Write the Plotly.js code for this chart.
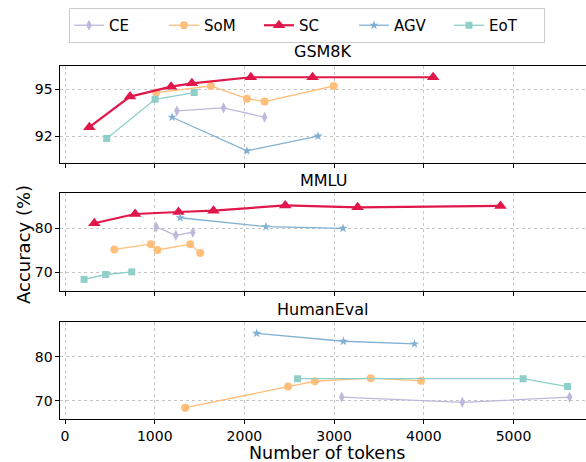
<!DOCTYPE html>
<html>
<head>
<meta charset="utf-8">
<script src="https://cdn.plot.ly/plotly-3.0.1.min.js"></script>
<style>html,body{margin:0;padding:0;background:#fff;}#chart{width:586px;height:462px;}</style>
</head>
<body>
<div id="chart"></div>
<script>
// ---- data (tokens, accuracy %) ----
const datasets = ["GSM8K", "MMLU", "HumanEval"];
const methods = ["CE", "SoM", "SC", "AGV", "EoT"];

// GSM8K
const gsm_CE_x = [1247, 1767, 2225];
const gsm_CE_y = [93.62, 93.81, 93.21];
const gsm_SoM_x = [1016, 1626, 2028, 2225, 2995];
const gsm_SoM_y = [94.79, 95.21, 94.40, 94.21, 95.21];
const gsm_SC_x = [271, 725, 1183, 1414, 2072, 2760, 4104];
const gsm_SC_y = [92.57, 94.53, 95.17, 95.38, 95.77, 95.77, 95.77];
const gsm_AGV_x = [1194, 2028, 2820];
const gsm_AGV_y = [93.21, 91.06, 92.00];
const gsm_EoT_x = [465, 1004, 1440];
const gsm_EoT_y = [91.85, 94.36, 94.79];

// MMLU
const mmlu_CE_x = [1016, 1235, 1425];
const mmlu_CE_y = [80.3, 78.4, 79.1];
const mmlu_SoM_x = [550, 956, 1030, 1395, 1507];
const mmlu_SoM_y = [75.2, 76.4, 75.07, 76.4, 74.4];
const mmlu_SC_x = [327, 781, 1265, 1655, 2455, 3262, 4855];
const mmlu_SC_y = [81.14, 83.25, 83.7, 84.0, 85.2, 84.77, 85.07];
const mmlu_AGV_x = [1283, 2240, 3099];
const mmlu_AGV_y = [82.4, 80.36, 80.0];
const mmlu_EoT_x = [212, 454, 744];
const mmlu_EoT_y = [68.4, 69.5, 70.1];

// HumanEval
const he_CE_x = [3085, 4429, 5625];
const he_CE_y = [70.8, 69.6, 70.8];
const he_SoM_x = [1340, 2487, 2784, 3408, 3968];
const he_SoM_y = [68.4, 73.2, 74.4, 75.1, 74.5];
const he_SC_x = [];
const he_SC_y = [];
const he_AGV_x = [2136, 3104, 3896];
const he_AGV_y = [85.3, 83.5, 82.9];
const he_EoT_x = [2593, 5107, 5602];
const he_EoT_y = [75.0, 75.0, 73.2];

const xTicks = [0, 1000, 2000, 3000, 4000, 5000];
const yTicksGSM = [92, 95];
const yTicksOther = [70, 80];

// ---- styles ----
const style = {
  CE:  {color: "#BEB8DC", symbol: "diamond-tall", size: 8, lw: 1.3},
  SoM: {color: "#FFBE7A", symbol: "circle", size: 8, lw: 1.3},
  SC:  {color: "#E0174A", symbol: "triangle-up", size: 11, lw: 2.2},
  AGV: {color: "#82B0D2", symbol: "star", size: 7, lw: 1.3},
  EoT: {color: "#8ECFC9", symbol: "square", size: 7, lw: 1.3}
};

const series = {
  GSM8K: {CE:[gsm_CE_x,gsm_CE_y], SoM:[gsm_SoM_x,gsm_SoM_y], SC:[gsm_SC_x,gsm_SC_y], AGV:[gsm_AGV_x,gsm_AGV_y], EoT:[gsm_EoT_x,gsm_EoT_y]},
  MMLU: {CE:[mmlu_CE_x,mmlu_CE_y], SoM:[mmlu_SoM_x,mmlu_SoM_y], SC:[mmlu_SC_x,mmlu_SC_y], AGV:[mmlu_AGV_x,mmlu_AGV_y], EoT:[mmlu_EoT_x,mmlu_EoT_y]},
  HumanEval: {CE:[he_CE_x,he_CE_y], SoM:[he_SoM_x,he_SoM_y], SC:[he_SC_x,he_SC_y], AGV:[he_AGV_x,he_AGV_y], EoT:[he_EoT_x,he_EoT_y]}
};

const traces = [];
datasets.forEach((ds, i) => {
  const ax = i === 0 ? "" : String(i + 1);
  methods.forEach(m => {
    const s = style[m];
    const d = series[ds][m];
    traces.push({
      type: "scatter", mode: "lines+markers",
      x: d[0], y: d[1],
      xaxis: "x" + ax, yaxis: "y" + ax,
      name: m, legendgroup: m, showlegend: i === 0,
      line: {color: s.color, width: s.lw},
      marker: {color: s.color, symbol: s.symbol, size: s.size, line: {width: 0}},
      hoverinfo: "skip"
    });
  });
});

const W = 586, H = 462, L = 60;
const plotW = W - L;
function py(px) { return 1 - px / H; }
function pxX(px) { return (px - L) / plotW; }

const xrange = [-56, 5808];
const gridC = "#b8b8b8";
function xAxis(showLabels, anchor) {
  return {
    range: xrange, tickvals: xTicks, ticktext: xTicks.map(String),
    showticklabels: showLabels, ticks: "outside", ticklen: 3.5, tickwidth: 1, tickcolor: "#000",
    showgrid: true, gridcolor: gridC, griddash: "dot", gridwidth: 0.8,
    showline: true, linecolor: "#000", linewidth: 1.1, mirror: true,
    zeroline: false, anchor: anchor, automargin: false,
    tickfont: {size: 14, color: "#000"}
  };
}
function yAxis(dom, range, ticks) {
  return {
    domain: dom, range: range, tickvals: ticks,
    ticks: "outside", ticklen: 3.5, tickwidth: 1, tickcolor: "#000",
    showgrid: true, gridcolor: gridC, griddash: "dot", gridwidth: 0.8,
    showline: true, linecolor: "#000", linewidth: 1.1, mirror: false,
    zeroline: false, automargin: false,
    tickfont: {size: 14, color: "#000"}
  };
}

const layout = {
  width: W, height: H,
  margin: {l: L, r: 0, t: 0, b: 0},
  paper_bgcolor: "#fff", plot_bgcolor: "#fff",
  font: {family: "DejaVu Sans", color: "#000"},
  showlegend: true,
  legend: {
    orientation: "h", x: pxX(69), y: py(8), xanchor: "left", yanchor: "top",
    bordercolor: "#cccccc", borderwidth: 1, bgcolor: "#fff",
    font: {size: 15, color: "#000"}, itemwidth: 30,
    entrywidth: 50, entrywidthmode: "pixels",
    tracegroupgap: 0
  },
  xaxis: xAxis(false, "y"),
  xaxis2: xAxis(false, "y2"),
  xaxis3: xAxis(true, "y3"),
  yaxis: yAxis([py(163.3), py(65.7)], [90.26, 96.51], yTicksGSM),
  yaxis2: yAxis([py(291), py(193.3)], [65.75, 87.95], yTicksOther),
  yaxis3: yAxis([py(419.3), py(321.7)], [65.75, 87.95], yTicksOther),
  annotations: [
    {text: "GSM8K", xref: "paper", yref: "paper", x: 0.5, y: py(52), xanchor: "center", yanchor: "middle", showarrow: false, font: {size: 16}},
    {text: "MMLU", xref: "paper", yref: "paper", x: 0.5, y: py(180), xanchor: "center", yanchor: "middle", showarrow: false, font: {size: 16}},
    {text: "HumanEval", xref: "paper", yref: "paper", x: 0.5, y: py(309), xanchor: "center", yanchor: "middle", showarrow: false, font: {size: 16}},
    {text: "Number of tokens", xref: "paper", yref: "paper", x: pxX(327), y: py(453), xanchor: "center", yanchor: "middle", showarrow: false, borderpad: 0, font: {size: 17.5}},
    {text: "Accuracy (%)", xref: "paper", yref: "paper", x: pxX(23), y: py(245), xanchor: "center", yanchor: "middle", textangle: -90, showarrow: false, font: {size: 18}}
  ]
};

Plotly.newPlot("chart", traces, layout, {displayModeBar: false, staticPlot: true});
</script>
</body>
</html>
